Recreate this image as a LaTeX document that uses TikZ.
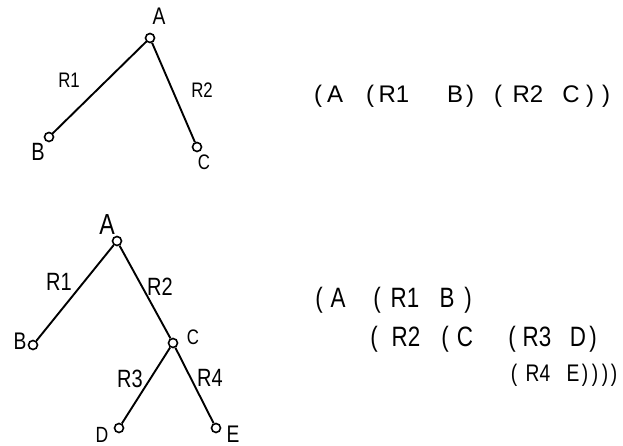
\documentclass[tikz,border=0pt]{standalone}
\usepackage{fontspec}
\newfontfamily\hand{Liberation Sans}
\newfontfamily\handn[FakeStretch=0.8]{Liberation Sans}
\newcommand{\hsz}[1]{\fontsize{#1}{#1}\selectfont}
\begin{document}
\begin{tikzpicture}[x=1pt,y=1pt,
  vert/.style={circle,draw,line width=1.6pt,inner sep=0pt,minimum size=9pt},
  lbl/.style={inner sep=0pt,font=\handn},
  tk/.style={inner sep=0pt,anchor=base,font=\hand},
  tkn/.style={inner sep=0pt,anchor=base,font=\handn},
  edge/.style={line width=1.9pt}]
\useasboundingbox (0,0) rectangle (623,446);
% ---------- top tree ----------
\node[vert] (ta) at (150,408) {};
\node[vert] (tb) at (49,309) {};
\node[vert] (tc) at (197,299) {};
\draw[edge] (ta) -- (tb);
\draw[edge] (ta) -- (tc);
\node[lbl] (tal) at (159,430) {\hsz{24}A};
\node[lbl] (tbl) at (38,294) {\hsz{25}B};
\node[lbl] (tcl) at (204,284) {\hsz{21}C};
\node[lbl] (tr1) at (69,366) {\hsz{21}R1};
\node[lbl] (tr2) at (202,356) {\hsz{21}R2};
% ---------- top expression ----------
\begin{scope}[every node/.style={tk}]
\node (p1) at (318,343) {\hsz{24}(};
\node (p2) at (335,343) {\hsz{24}A};
\node (p3) at (370,343) {\hsz{24}(};
\node (p4) at (394,343) {\hsz{24}R1};
\node (p5) at (455,343) {\hsz{24}B};
\node (p6) at (470,343) {\hsz{24})};
\node (p7) at (498,343) {\hsz{24}(};
\node (p8) at (528,343) {\hsz{24}R2};
\node (p9) at (571,343) {\hsz{24}C};
\node (p10) at (590,343) {\hsz{24})};
\node (p11) at (606,343) {\hsz{24})};
\end{scope}
% ---------- bottom tree ----------
\node[vert] (ba) at (117,205) {};
\node[vert] (bb) at (33,101) {};
\node[vert] (bc) at (173,103) {};
\node[vert] (bd) at (119,18) {};
\node[vert] (be) at (216,18) {};
\draw[edge] (ba) -- (bb);
\draw[edge] (ba) -- (bc);
\draw[edge] (bc) -- (bd);
\draw[edge] (bc) -- (be);
\node[lbl] (bal) at (107,221) {\hsz{29}A};
\node[lbl] (bbl) at (20,105) {\hsz{24}B};
\node[lbl] (bcl) at (193,109) {\hsz{21}C};
\node[lbl] (bdl) at (102,11) {\hsz{22}D};
\node[lbl] (bel) at (233,12) {\hsz{24}E};
\node[lbl] (br1) at (59,164) {\hsz{25}R1};
\node[lbl] (br2) at (160,159) {\hsz{25}R2};
\node[lbl] (br3) at (130,67) {\hsz{25}R3};
\node[lbl] (br4) at (210,68) {\hsz{25}R4};
% ---------- bottom expression ----------
\begin{scope}[every node/.style={tkn}]
\node (q1) at (319,138) {\hsz{28}(};
\node (q2) at (338,138) {\hsz{28}A};
\node (q3) at (377,138) {\hsz{28}(};
\node (q4) at (405,138) {\hsz{28}R1};
\node (q5) at (447,138) {\hsz{28}B};
\node (q6) at (468,138) {\hsz{28})};
\node (r1) at (374,99) {\hsz{28}(};
\node (r2) at (406,99) {\hsz{28}R2};
\node (r3) at (445,99) {\hsz{28}(};
\node (r4) at (465,99) {\hsz{28}C};
\node (r5) at (512,99) {\hsz{28}(};
\node (r6) at (537,99) {\hsz{28}R3};
\node (r7) at (578,99) {\hsz{28}D};
\node (r8) at (593,99) {\hsz{28})};
\node (s1) at (514,64) {\hsz{24}(};
\node (s2) at (538,64) {\hsz{24}R4};
\node (s3) at (573,64) {\hsz{24}E};
\node (s4) at (585,64) {\hsz{24})};
\node (s5) at (595,64) {\hsz{24})};
\node (s6) at (605,64) {\hsz{24})};
\node (s7) at (614,64) {\hsz{24})};
\end{scope}
\end{tikzpicture}
\end{document}
